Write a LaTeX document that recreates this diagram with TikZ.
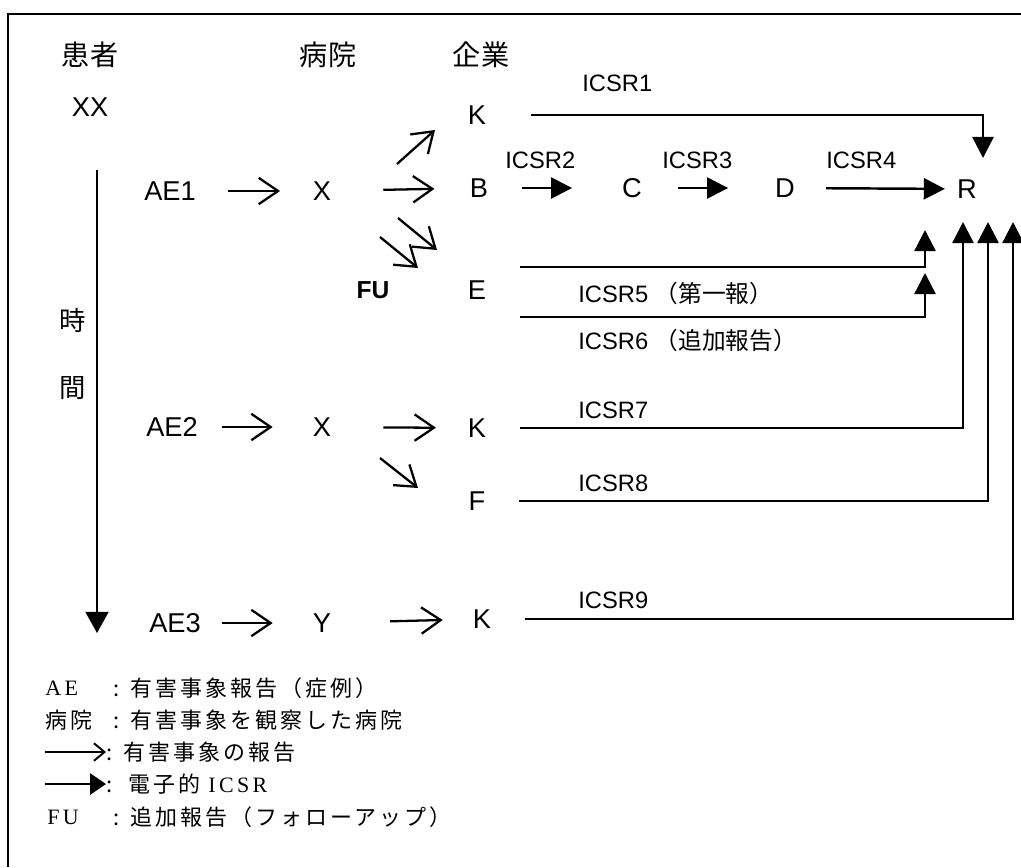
\documentclass[tikz,border=0pt]{standalone}
\usepackage{fontspec}
\setmainfont{Liberation Sans}
\newfontfamily\jp{Noto Sans CJK JP}
\newfontfamily\jpl[LetterSpace=14]{Noto Sans CJK JP}
\newfontfamily\tmsl[LetterSpace=15]{Liberation Serif}
\usetikzlibrary{arrows.meta}

\tikzset{
  lbl/.style={inner sep=0pt, font=\fontsize{15.5}{18}\selectfont},
  hdr/.style={inner sep=0pt, font=\jp\fontsize{16}{19}\selectfont},
  icsr/.style={inner sep=0pt, anchor=west, font=\fontsize{13.5}{16}\selectfont},
  leg/.style={inner sep=0pt, anchor=west, font=\jpl\fontsize{12.5}{15}\selectfont},
  legl/.style={leg, font=\tmsl\fontsize{12.5}{15}\selectfont},
  rep/.style={line width=1.3pt, -{Straight Barb[length=11pt,width=15pt]}},
  ecsr/.style={line width=1.4pt, -{Triangle[length=12pt,width=12pt]}},
}

\begin{document}
\begin{tikzpicture}[x=0.02cm, y=-0.02cm]
  \useasboundingbox (0,0) rectangle (1021,867);
  \draw[line width=1.4pt] (1021,14) -- (8,14) -- (8,867);

  % column heads
  \node[hdr] (hpat) at (90,55) {患者};
  \node[hdr] (hhos) at (328,55) {病院};
  \node[hdr] (hcom) at (481,55) {企業};

  % time axis
  \coordinate (t0) at (97,170);
  \coordinate (t1) at (97,633);
  \draw[line width=1.3pt, -{Triangle[length=12pt,width=13pt]}] (t0) -- (t1);
  \node[hdr, font=\jp\fontsize{15}{18}\selectfont] (tm1) at (73,320) {時};
  \node[hdr, font=\jp\fontsize{15}{18}\selectfont] (tm2) at (73,388) {間};

  \node[lbl] (xx) at (90,107) {XX};
  \node[lbl] (k1) at (477,115) {K};
  \node[lbl] (ae1) at (170,191) {AE1};
  \node[lbl] (x1) at (322,191) {X};
  \node[lbl] (b) at (479,188) {B};
  \node[lbl] (c) at (632,188) {C};
  \node[lbl] (d) at (785,188) {D};
  \node[lbl] (r) at (967,189) {R};
  \node[lbl, font=\bfseries\fontsize{14}{16}\selectfont] (fu) at (373,290) {FU};
  \node[lbl] (e) at (477,290) {E};
  \node[lbl] (ae2) at (172,427) {AE2};
  \node[lbl] (x2) at (322,427) {X};
  \node[lbl] (k2) at (477,428) {K};
  \node[lbl] (f) at (477,501) {F};
  \node[lbl] (ae3) at (175,623) {AE3};
  \node[lbl] (y3) at (322,623) {Y};
  \node[lbl] (k3) at (482,619) {K};

  % adverse event reports
  \draw[rep, shorten <=18pt, shorten >=18.5pt] (ae1) -- (x1);
  \draw[rep, shorten <=29.5pt, shorten >=20pt] (x1) -- (b);
  \draw[rep] (x1) ++(75,-27) -- ++(38,-34);
  \draw[rep] (x1) ++(76,27) -- ++(39,32);
  \draw[rep] (x1) ++(58,46) -- ++(38,31);
  \draw[rep, shorten <=13.6pt, shorten >=22.7pt] (ae2) -- (x2);
  \draw[rep, shorten <=29.5pt, shorten >=18pt] (x2) -- (k2);
  \draw[rep] (x2) ++(58,31) -- ++(38,30);
  \draw[rep, shorten <=12pt, shorten >=22.7pt] (ae3) -- (y3);
  \draw[rep, shorten <=33.4pt, shorten >=17pt] (y3) -- (k3);

  % electronic ICSRs
  \draw[ecsr, shorten <=19.3pt, shorten >=28.3pt] (b) -- (c);
  \draw[ecsr, shorten <=20.4pt, shorten >=26.6pt] (c) -- (d);
  \draw[ecsr, shorten <=17.6pt, shorten >=6.8pt] (d) -- (r);

  \coordinate (r1) at (983,158);
  \draw[ecsr, shorten <=25.5pt] (k1) -| (r1);

  \coordinate (r5) at (925,230);
  \coordinate (r6) at (925,273);
  \draw[ecsr, shorten <=19.3pt] ([yshift=0.46cm]e.east) -| (r5);
  \draw[ecsr, shorten <=19.3pt] ([yshift=-0.54cm]e.east) -| (r6);

  \coordinate (r7) at (963,222);
  \coordinate (r8) at (988,222);
  \coordinate (r9) at (1013,222);
  \foreach \src/\tip in {k2/r7, f/r8, k3/r9}
    \draw[ecsr, shorten <=19pt] (\src) -| (\tip);

  \node[icsr] (l1) at (582,83) {ICSR1};
  \node[icsr] (l2) at (505,160) {ICSR2};
  \node[icsr] (l3) at (662,160) {ICSR3};
  \node[icsr] (l4) at (826,160) {ICSR4};
  \node[icsr] (l5) at (578,293) {ICSR5 {\jp （第一報）}};
  \node[icsr] (l6) at (578,340) {ICSR6 {\jp （追加報告）}};
  \node[icsr] (l7) at (578,410) {ICSR7};
  \node[icsr] (l8) at (578,483) {ICSR8};
  \node[icsr] (l9) at (578,600) {ICSR9};

  % legend
  \node[legl] (la) at (45,688) {AE};
  \node[leg] (lta) at (113,688) {: 有害事象報告（症例）};
  \node[leg] (lb) at (45,720) {病院};
  \node[leg] (ltb) at (113,720) {: 有害事象を観察した病院};
  \node[leg] (ltc) at (106,752) {: 有害事象の報告};
  \draw[line width=1.1pt, -{Straight Barb[length=6pt,width=10pt]}] ([xshift=-1.22cm]ltc.west) -- (ltc.west);
  \node[leg] (ltd) at (106,784) {:\ \ 電子的 {\tmsl ICSR}};
  \draw[line width=1.1pt, -{Triangle[length=9pt,width=12pt]}] ([xshift=-1.22cm]ltd.west) -- (ltd.west);
  \node[legl] (le) at (47,817) {FU};
  \node[leg] (lte) at (113,817) {: 追加報告（フォローアップ）};
\end{tikzpicture}
\end{document}
